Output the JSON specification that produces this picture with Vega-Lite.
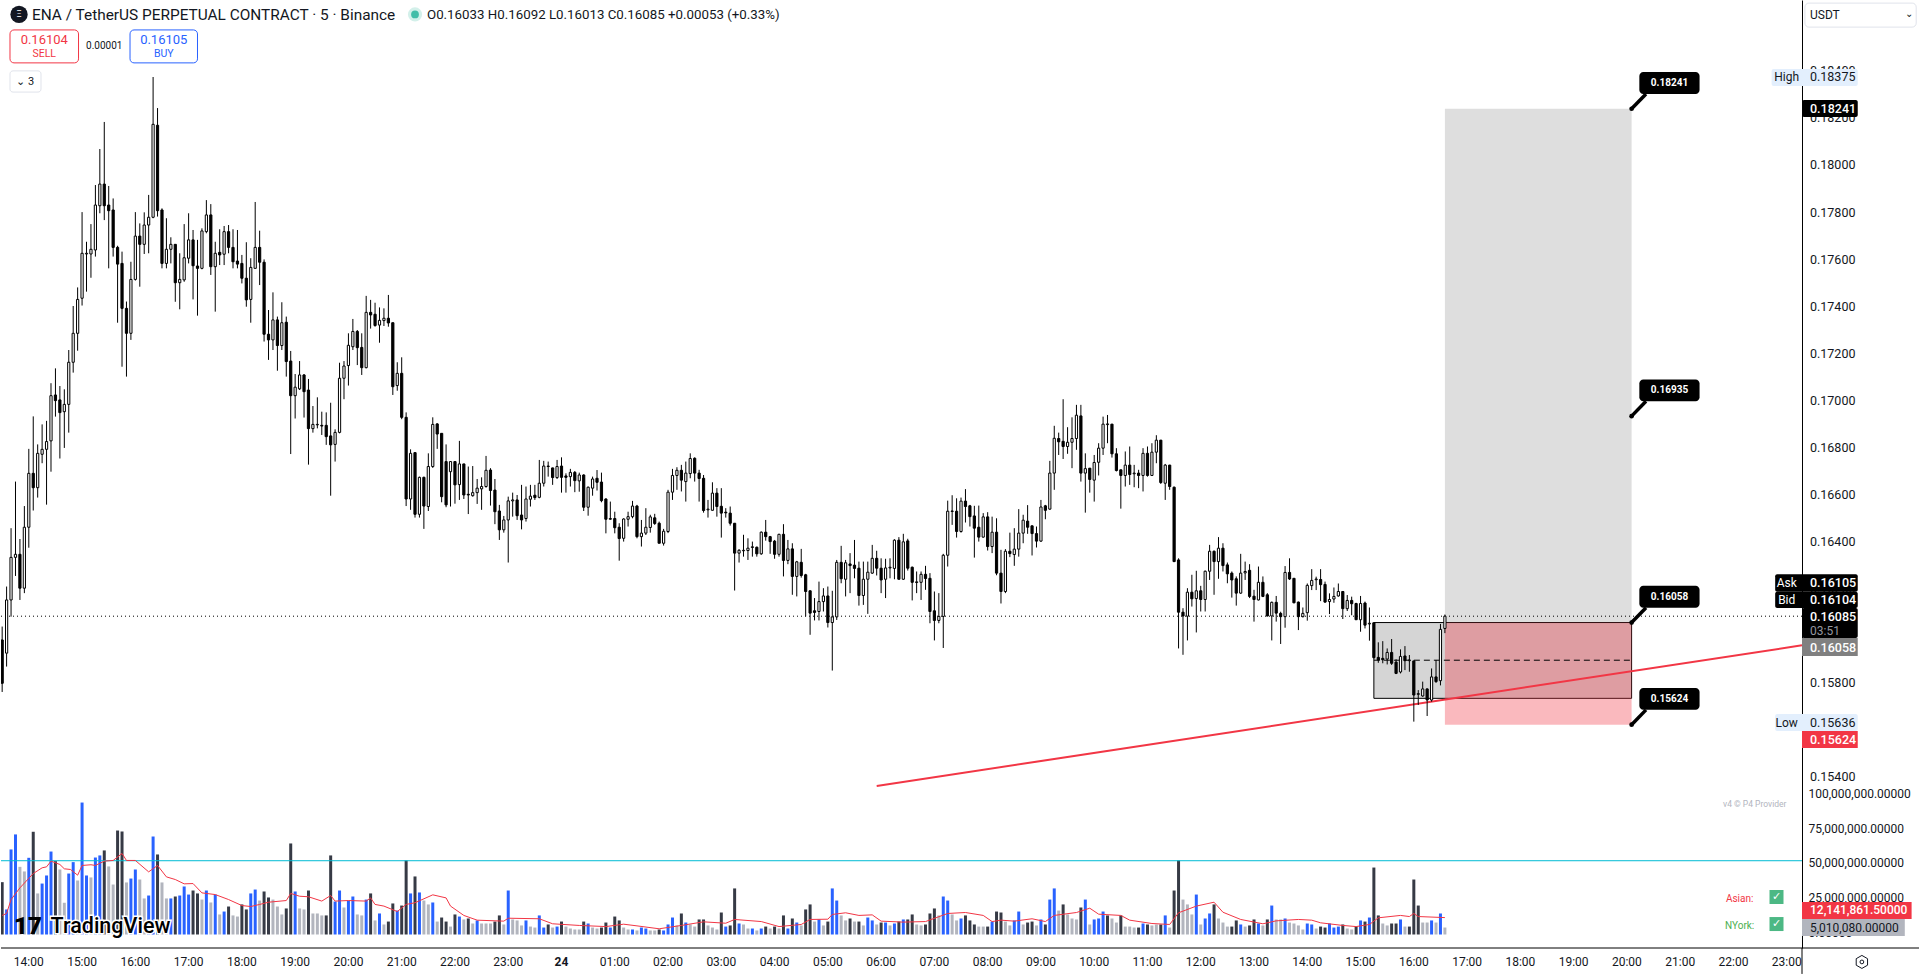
{"$schema":"https://vega.github.io/schema/vega-lite/v6.json","width":1801,"height":948,"padding":0,"autosize":{"type":"pad"},"background":"white","config":{"view":{"stroke":null},"font":"Roboto","axis":{"labelFont":"Roboto","labelColor":"#131722"}},
"datasets":{"candles":[
{"t":"2024-09-23T13:30","o":0.15984,"h":0.16041,"l":0.15763,"c":0.15800,"v":37.6,"k":"d"},
{"t":"2024-09-23T13:35","o":0.15928,"h":0.16211,"l":0.15871,"c":0.16154,"v":18.0,"k":"b"},
{"t":"2024-09-23T13:40","o":0.16154,"h":0.16459,"l":0.16083,"c":0.16335,"v":61.1,"k":"b"},
{"t":"2024-09-23T13:45","o":0.16335,"h":0.16657,"l":0.16256,"c":0.16348,"v":71.9,"k":"b"},
{"t":"2024-09-23T13:50","o":0.16348,"h":0.16413,"l":0.16154,"c":0.16204,"v":48.6,"k":"g"},
{"t":"2024-09-23T13:55","o":0.16204,"h":0.16553,"l":0.16183,"c":0.16463,"v":45.3,"k":"g"},
{"t":"2024-09-23T14:00","o":0.16463,"h":0.16796,"l":0.16376,"c":0.16692,"v":55.1,"k":"b"},
{"t":"2024-09-23T14:05","o":0.16692,"h":0.16934,"l":0.16534,"c":0.16631,"v":73.8,"k":"d"},
{"t":"2024-09-23T14:10","o":0.16631,"h":0.16815,"l":0.16589,"c":0.16777,"v":29.5,"k":"g"},
{"t":"2024-09-23T14:15","o":0.16773,"h":0.16900,"l":0.16735,"c":0.16794,"v":36.6,"k":"b"},
{"t":"2024-09-23T14:20","o":0.16794,"h":0.16915,"l":0.16559,"c":0.16827,"v":42.4,"k":"b"},
{"t":"2024-09-23T14:25","o":0.16830,"h":0.17075,"l":0.16699,"c":0.17022,"v":59.6,"k":"b"},
{"t":"2024-09-23T14:30","o":0.17025,"h":0.17138,"l":0.16933,"c":0.17001,"v":52.7,"k":"d"},
{"t":"2024-09-23T14:35","o":0.17004,"h":0.17063,"l":0.16755,"c":0.16950,"v":46.7,"k":"g"},
{"t":"2024-09-23T14:40","o":0.16954,"h":0.17049,"l":0.16800,"c":0.16985,"v":22.8,"k":"g"},
{"t":"2024-09-23T14:45","o":0.16985,"h":0.17216,"l":0.16865,"c":0.17164,"v":43.8,"k":"b"},
{"t":"2024-09-23T14:50","o":0.17164,"h":0.17403,"l":0.17120,"c":0.17287,"v":52.0,"k":"b"},
{"t":"2024-09-23T14:55","o":0.17287,"h":0.17482,"l":0.17213,"c":0.17431,"v":38.8,"k":"g"},
{"t":"2024-09-23T15:00","o":0.17436,"h":0.17802,"l":0.17405,"c":0.17627,"v":94.8,"k":"b"},
{"t":"2024-09-23T15:05","o":0.17624,"h":0.17676,"l":0.17464,"c":0.17627,"v":42.4,"k":"b"},
{"t":"2024-09-23T15:10","o":0.17624,"h":0.17751,"l":0.17523,"c":0.17644,"v":41.0,"k":"g"},
{"t":"2024-09-23T15:15","o":0.17641,"h":0.17917,"l":0.17613,"c":0.17832,"v":55.3,"k":"b"},
{"t":"2024-09-23T15:20","o":0.17829,"h":0.18070,"l":0.17797,"c":0.17921,"v":56.8,"k":"b"},
{"t":"2024-09-23T15:25","o":0.17921,"h":0.18185,"l":0.17768,"c":0.17829,"v":60.4,"k":"d"},
{"t":"2024-09-23T15:30","o":0.17832,"h":0.17913,"l":0.17563,"c":0.17808,"v":48.9,"k":"g"},
{"t":"2024-09-23T15:35","o":0.17811,"h":0.17860,"l":0.17613,"c":0.17652,"v":35.9,"k":"g"},
{"t":"2024-09-23T15:40","o":0.17652,"h":0.17659,"l":0.17332,"c":0.17581,"v":74.7,"k":"d"},
{"t":"2024-09-23T15:45","o":0.17584,"h":0.17634,"l":0.17145,"c":0.17393,"v":74.0,"k":"d"},
{"t":"2024-09-23T15:50","o":0.17393,"h":0.17422,"l":0.17103,"c":0.17287,"v":37.4,"k":"g"},
{"t":"2024-09-23T15:55","o":0.17287,"h":0.17591,"l":0.17259,"c":0.17516,"v":40.2,"k":"b"},
{"t":"2024-09-23T16:00","o":0.17516,"h":0.17802,"l":0.17511,"c":0.17700,"v":46.7,"k":"b"},
{"t":"2024-09-23T16:05","o":0.17700,"h":0.17754,"l":0.17485,"c":0.17665,"v":39.5,"k":"g"},
{"t":"2024-09-23T16:10","o":0.17665,"h":0.17801,"l":0.17624,"c":0.17747,"v":25.9,"k":"g"},
{"t":"2024-09-23T16:15","o":0.17747,"h":0.17875,"l":0.17627,"c":0.17780,"v":28.0,"k":"b"},
{"t":"2024-09-23T16:20","o":0.17780,"h":0.18376,"l":0.17776,"c":0.18175,"v":70.4,"k":"b"},
{"t":"2024-09-23T16:25","o":0.18171,"h":0.18244,"l":0.17783,"c":0.17808,"v":57.5,"k":"d"},
{"t":"2024-09-23T16:30","o":0.17811,"h":0.17818,"l":0.17563,"c":0.17584,"v":37.4,"k":"g"},
{"t":"2024-09-23T16:35","o":0.17584,"h":0.17776,"l":0.17563,"c":0.17644,"v":25.9,"k":"g"},
{"t":"2024-09-23T16:40","o":0.17644,"h":0.17695,"l":0.17584,"c":0.17665,"v":25.9,"k":"b"},
{"t":"2024-09-23T16:45","o":0.17665,"h":0.17666,"l":0.17421,"c":0.17502,"v":27.3,"k":"d"},
{"t":"2024-09-23T16:50","o":0.17502,"h":0.17627,"l":0.17389,"c":0.17516,"v":28.0,"k":"b"},
{"t":"2024-09-23T16:55","o":0.17514,"h":0.17751,"l":0.17506,"c":0.17608,"v":34.5,"k":"b"},
{"t":"2024-09-23T17:00","o":0.17606,"h":0.17797,"l":0.17584,"c":0.17684,"v":28.7,"k":"b"},
{"t":"2024-09-23T17:05","o":0.17684,"h":0.17726,"l":0.17431,"c":0.17574,"v":31.6,"k":"d"},
{"t":"2024-09-23T17:10","o":0.17573,"h":0.17684,"l":0.17362,"c":0.17563,"v":29.5,"k":"d"},
{"t":"2024-09-23T17:15","o":0.17563,"h":0.17733,"l":0.17559,"c":0.17722,"v":25.1,"k":"g"},
{"t":"2024-09-23T17:20","o":0.17719,"h":0.17853,"l":0.17712,"c":0.17790,"v":31.6,"k":"b"},
{"t":"2024-09-23T17:25","o":0.17790,"h":0.17836,"l":0.17535,"c":0.17570,"v":23.0,"k":"g"},
{"t":"2024-09-23T17:30","o":0.17570,"h":0.17676,"l":0.17379,"c":0.17627,"v":28.7,"k":"b"},
{"t":"2024-09-23T17:35","o":0.17631,"h":0.17729,"l":0.17577,"c":0.17620,"v":14.4,"k":"g"},
{"t":"2024-09-23T17:40","o":0.17623,"h":0.17743,"l":0.17577,"c":0.17719,"v":16.5,"k":"b"},
{"t":"2024-09-23T17:45","o":0.17719,"h":0.17747,"l":0.17627,"c":0.17652,"v":20.1,"k":"d"},
{"t":"2024-09-23T17:50","o":0.17652,"h":0.17729,"l":0.17563,"c":0.17591,"v":13.7,"k":"g"},
{"t":"2024-09-23T17:55","o":0.17594,"h":0.17726,"l":0.17563,"c":0.17581,"v":12.9,"k":"g"},
{"t":"2024-09-23T18:00","o":0.17584,"h":0.17620,"l":0.17499,"c":0.17521,"v":21.6,"k":"d"},
{"t":"2024-09-23T18:05","o":0.17521,"h":0.17674,"l":0.17400,"c":0.17429,"v":18.0,"k":"d"},
{"t":"2024-09-23T18:10","o":0.17431,"h":0.17606,"l":0.17332,"c":0.17567,"v":29.5,"k":"b"},
{"t":"2024-09-23T18:15","o":0.17563,"h":0.17845,"l":0.17562,"c":0.17652,"v":32.3,"k":"b"},
{"t":"2024-09-23T18:20","o":0.17652,"h":0.17723,"l":0.17492,"c":0.17589,"v":24.4,"k":"g"},
{"t":"2024-09-23T18:25","o":0.17589,"h":0.17601,"l":0.17252,"c":0.17283,"v":30.9,"k":"d"},
{"t":"2024-09-23T18:30","o":0.17283,"h":0.17386,"l":0.17174,"c":0.17259,"v":26.6,"k":"d"},
{"t":"2024-09-23T18:35","o":0.17259,"h":0.17461,"l":0.17216,"c":0.17344,"v":25.1,"k":"g"},
{"t":"2024-09-23T18:40","o":0.17344,"h":0.17358,"l":0.17128,"c":0.17235,"v":20.1,"k":"g"},
{"t":"2024-09-23T18:45","o":0.17235,"h":0.17419,"l":0.17216,"c":0.17332,"v":14.4,"k":"g"},
{"t":"2024-09-23T18:50","o":0.17334,"h":0.17358,"l":0.17103,"c":0.17167,"v":18.7,"k":"d"},
{"t":"2024-09-23T18:55","o":0.17169,"h":0.17212,"l":0.16774,"c":0.17022,"v":65.4,"k":"d"},
{"t":"2024-09-23T19:00","o":0.17022,"h":0.17114,"l":0.16925,"c":0.17058,"v":30.9,"k":"b"},
{"t":"2024-09-23T19:05","o":0.17051,"h":0.17169,"l":0.17046,"c":0.17110,"v":18.7,"k":"g"},
{"t":"2024-09-23T19:10","o":0.17110,"h":0.17114,"l":0.16929,"c":0.17039,"v":18.0,"k":"g"},
{"t":"2024-09-23T19:15","o":0.17046,"h":0.17093,"l":0.16729,"c":0.16882,"v":31.6,"k":"d"},
{"t":"2024-09-23T19:20","o":0.16882,"h":0.16978,"l":0.16865,"c":0.16900,"v":15.1,"k":"g"},
{"t":"2024-09-23T19:25","o":0.16898,"h":0.17015,"l":0.16883,"c":0.16900,"v":15.1,"k":"g"},
{"t":"2024-09-23T19:30","o":0.16896,"h":0.16954,"l":0.16855,"c":0.16893,"v":13.7,"k":"g"},
{"t":"2024-09-23T19:35","o":0.16896,"h":0.16951,"l":0.16813,"c":0.16848,"v":13.7,"k":"d"},
{"t":"2024-09-23T19:40","o":0.16851,"h":0.16992,"l":0.16597,"c":0.16813,"v":56.8,"k":"d"},
{"t":"2024-09-23T19:45","o":0.16815,"h":0.16879,"l":0.16742,"c":0.16866,"v":23.7,"k":"b"},
{"t":"2024-09-23T19:50","o":0.16866,"h":0.17162,"l":0.16862,"c":0.17096,"v":31.6,"k":"b"},
{"t":"2024-09-23T19:55","o":0.17096,"h":0.17169,"l":0.17007,"c":0.17148,"v":19.4,"k":"g"},
{"t":"2024-09-23T20:00","o":0.17150,"h":0.17287,"l":0.17065,"c":0.17236,"v":24.4,"k":"b"},
{"t":"2024-09-23T20:05","o":0.17230,"h":0.17348,"l":0.17216,"c":0.17295,"v":27.3,"k":"b"},
{"t":"2024-09-23T20:10","o":0.17295,"h":0.17301,"l":0.17152,"c":0.17226,"v":14.4,"k":"g"},
{"t":"2024-09-23T20:15","o":0.17227,"h":0.17287,"l":0.17110,"c":0.17141,"v":13.7,"k":"g"},
{"t":"2024-09-23T20:20","o":0.17141,"h":0.17446,"l":0.17138,"c":0.17376,"v":25.1,"k":"b"},
{"t":"2024-09-23T20:25","o":0.17376,"h":0.17429,"l":0.17307,"c":0.17365,"v":29.5,"k":"d"},
{"t":"2024-09-23T20:30","o":0.17368,"h":0.17417,"l":0.17315,"c":0.17320,"v":10.1,"k":"g"},
{"t":"2024-09-23T20:35","o":0.17322,"h":0.17397,"l":0.17247,"c":0.17342,"v":15.1,"k":"b"},
{"t":"2024-09-23T20:40","o":0.17341,"h":0.17393,"l":0.17318,"c":0.17351,"v":7.2,"k":"g"},
{"t":"2024-09-23T20:45","o":0.17351,"h":0.17450,"l":0.17315,"c":0.17331,"v":9.3,"k":"d"},
{"t":"2024-09-23T20:50","o":0.17332,"h":0.17332,"l":0.17025,"c":0.17060,"v":22.3,"k":"d"},
{"t":"2024-09-23T20:55","o":0.17065,"h":0.17164,"l":0.17043,"c":0.17117,"v":17.2,"k":"b"},
{"t":"2024-09-23T21:00","o":0.17117,"h":0.17185,"l":0.16922,"c":0.16930,"v":20.8,"k":"d"},
{"t":"2024-09-23T21:05","o":0.16930,"h":0.16951,"l":0.16553,"c":0.16583,"v":53.2,"k":"d"},
{"t":"2024-09-23T21:10","o":0.16583,"h":0.16794,"l":0.16537,"c":0.16777,"v":29.5,"k":"b"},
{"t":"2024-09-23T21:15","o":0.16780,"h":0.16781,"l":0.16504,"c":0.16518,"v":41.7,"k":"d"},
{"t":"2024-09-23T21:20","o":0.16518,"h":0.16678,"l":0.16504,"c":0.16675,"v":30.2,"k":"b"},
{"t":"2024-09-23T21:25","o":0.16675,"h":0.16678,"l":0.16456,"c":0.16553,"v":24.4,"k":"g"},
{"t":"2024-09-23T21:30","o":0.16551,"h":0.16777,"l":0.16532,"c":0.16721,"v":21.6,"k":"g"},
{"t":"2024-09-23T21:35","o":0.16721,"h":0.16930,"l":0.16715,"c":0.16900,"v":23.0,"k":"b"},
{"t":"2024-09-23T21:40","o":0.16902,"h":0.16905,"l":0.16796,"c":0.16859,"v":9.3,"k":"g"},
{"t":"2024-09-23T21:45","o":0.16862,"h":0.16862,"l":0.16569,"c":0.16593,"v":12.2,"k":"d"},
{"t":"2024-09-23T21:50","o":0.16742,"h":0.16815,"l":0.16548,"c":0.16558,"v":9.3,"k":"d"},
{"t":"2024-09-23T21:55","o":0.16699,"h":0.16742,"l":0.16551,"c":0.16742,"v":5.7,"k":"g"},
{"t":"2024-09-23T22:00","o":0.16742,"h":0.16742,"l":0.16563,"c":0.16643,"v":14.4,"k":"d"},
{"t":"2024-09-23T22:05","o":0.16644,"h":0.16830,"l":0.16579,"c":0.16732,"v":12.9,"k":"b"},
{"t":"2024-09-23T22:10","o":0.16732,"h":0.16732,"l":0.16583,"c":0.16600,"v":10.8,"k":"g"},
{"t":"2024-09-23T22:15","o":0.16603,"h":0.16721,"l":0.16519,"c":0.16600,"v":11.5,"k":"d"},
{"t":"2024-09-23T22:20","o":0.16597,"h":0.16723,"l":0.16593,"c":0.16610,"v":7.9,"k":"g"},
{"t":"2024-09-23T22:25","o":0.16610,"h":0.16668,"l":0.16562,"c":0.16629,"v":10.1,"k":"b"},
{"t":"2024-09-23T22:30","o":0.16626,"h":0.16675,"l":0.16537,"c":0.16636,"v":7.9,"k":"g"},
{"t":"2024-09-23T22:35","o":0.16636,"h":0.16766,"l":0.16631,"c":0.16705,"v":7.9,"k":"g"},
{"t":"2024-09-23T22:40","o":0.16706,"h":0.16714,"l":0.16555,"c":0.16619,"v":7.9,"k":"g"},
{"t":"2024-09-23T22:45","o":0.16621,"h":0.16668,"l":0.16476,"c":0.16529,"v":9.3,"k":"d"},
{"t":"2024-09-23T22:50","o":0.16532,"h":0.16558,"l":0.16409,"c":0.16452,"v":13.7,"k":"d"},
{"t":"2024-09-23T22:55","o":0.16452,"h":0.16511,"l":0.16440,"c":0.16494,"v":7.2,"k":"g"},
{"t":"2024-09-23T23:00","o":0.16494,"h":0.16593,"l":0.16313,"c":0.16575,"v":31.6,"k":"b"},
{"t":"2024-09-23T23:05","o":0.16575,"h":0.16610,"l":0.16508,"c":0.16579,"v":10.8,"k":"g"},
{"t":"2024-09-23T23:10","o":0.16579,"h":0.16600,"l":0.16494,"c":0.16512,"v":10.1,"k":"g"},
{"t":"2024-09-23T23:15","o":0.16515,"h":0.16643,"l":0.16454,"c":0.16494,"v":6.5,"k":"g"},
{"t":"2024-09-23T23:20","o":0.16500,"h":0.16636,"l":0.16487,"c":0.16583,"v":10.1,"k":"b"},
{"t":"2024-09-23T23:25","o":0.16582,"h":0.16643,"l":0.16551,"c":0.16595,"v":5.7,"k":"g"},
{"t":"2024-09-23T23:30","o":0.16599,"h":0.16643,"l":0.16579,"c":0.16589,"v":5.0,"k":"g"},
{"t":"2024-09-23T23:35","o":0.16590,"h":0.16749,"l":0.16586,"c":0.16650,"v":13.7,"k":"b"},
{"t":"2024-09-23T23:40","o":0.16650,"h":0.16745,"l":0.16636,"c":0.16723,"v":5.0,"k":"b"},
{"t":"2024-09-23T23:45","o":0.16723,"h":0.16742,"l":0.16678,"c":0.16721,"v":7.2,"k":"d"},
{"t":"2024-09-23T23:50","o":0.16715,"h":0.16716,"l":0.16643,"c":0.16674,"v":5.0,"k":"g"},
{"t":"2024-09-23T23:55","o":0.16674,"h":0.16749,"l":0.16668,"c":0.16721,"v":5.7,"k":"b"},
{"t":"2024-09-24T00:00","o":0.16723,"h":0.16760,"l":0.16610,"c":0.16675,"v":9.3,"k":"d"},
{"t":"2024-09-24T00:05","o":0.16681,"h":0.16692,"l":0.16610,"c":0.16675,"v":5.7,"k":"g"},
{"t":"2024-09-24T00:10","o":0.16678,"h":0.16711,"l":0.16636,"c":0.16696,"v":4.3,"k":"g"},
{"t":"2024-09-24T00:15","o":0.16696,"h":0.16702,"l":0.16612,"c":0.16661,"v":3.6,"k":"g"},
{"t":"2024-09-24T00:20","o":0.16660,"h":0.16695,"l":0.16614,"c":0.16685,"v":3.6,"k":"g"},
{"t":"2024-09-24T00:25","o":0.16685,"h":0.16688,"l":0.16532,"c":0.16548,"v":9.3,"k":"d"},
{"t":"2024-09-24T00:30","o":0.16548,"h":0.16636,"l":0.16512,"c":0.16633,"v":7.9,"k":"b"},
{"t":"2024-09-24T00:35","o":0.16629,"h":0.16678,"l":0.16597,"c":0.16668,"v":5.0,"k":"g"},
{"t":"2024-09-24T00:40","o":0.16671,"h":0.16706,"l":0.16619,"c":0.16654,"v":4.3,"k":"g"},
{"t":"2024-09-24T00:45","o":0.16655,"h":0.16695,"l":0.16569,"c":0.16576,"v":5.0,"k":"d"},
{"t":"2024-09-24T00:50","o":0.16583,"h":0.16586,"l":0.16437,"c":0.16497,"v":8.6,"k":"d"},
{"t":"2024-09-24T00:55","o":0.16497,"h":0.16572,"l":0.16494,"c":0.16500,"v":5.0,"k":"b"},
{"t":"2024-09-24T01:00","o":0.16500,"h":0.16529,"l":0.16437,"c":0.16461,"v":12.9,"k":"d"},
{"t":"2024-09-24T01:05","o":0.16463,"h":0.16480,"l":0.16321,"c":0.16415,"v":10.1,"k":"d"},
{"t":"2024-09-24T01:10","o":0.16416,"h":0.16501,"l":0.16402,"c":0.16498,"v":5.0,"k":"g"},
{"t":"2024-09-24T01:15","o":0.16497,"h":0.16529,"l":0.16466,"c":0.16508,"v":3.6,"k":"g"},
{"t":"2024-09-24T01:20","o":0.16508,"h":0.16575,"l":0.16501,"c":0.16553,"v":3.6,"k":"b"},
{"t":"2024-09-24T01:25","o":0.16553,"h":0.16558,"l":0.16416,"c":0.16423,"v":2.9,"k":"g"},
{"t":"2024-09-24T01:30","o":0.16423,"h":0.16494,"l":0.16381,"c":0.16438,"v":5.0,"k":"b"},
{"t":"2024-09-24T01:35","o":0.16438,"h":0.16544,"l":0.16430,"c":0.16463,"v":4.3,"k":"b"},
{"t":"2024-09-24T01:40","o":0.16462,"h":0.16516,"l":0.16440,"c":0.16507,"v":2.9,"k":"g"},
{"t":"2024-09-24T01:45","o":0.16503,"h":0.16520,"l":0.16473,"c":0.16479,"v":2.9,"k":"g"},
{"t":"2024-09-24T01:50","o":0.16480,"h":0.16487,"l":0.16395,"c":0.16395,"v":3.6,"k":"d"},
{"t":"2024-09-24T01:55","o":0.16395,"h":0.16456,"l":0.16385,"c":0.16446,"v":2.9,"k":"b"},
{"t":"2024-09-24T02:00","o":0.16445,"h":0.16622,"l":0.16438,"c":0.16612,"v":7.2,"k":"b"},
{"t":"2024-09-24T02:05","o":0.16612,"h":0.16711,"l":0.16579,"c":0.16683,"v":12.2,"k":"b"},
{"t":"2024-09-24T02:10","o":0.16683,"h":0.16718,"l":0.16622,"c":0.16705,"v":6.5,"k":"g"},
{"t":"2024-09-24T02:15","o":0.16705,"h":0.16728,"l":0.16615,"c":0.16663,"v":15.1,"k":"d"},
{"t":"2024-09-24T02:20","o":0.16657,"h":0.16742,"l":0.16572,"c":0.16693,"v":8.6,"k":"b"},
{"t":"2024-09-24T02:25","o":0.16691,"h":0.16777,"l":0.16671,"c":0.16755,"v":7.2,"k":"g"},
{"t":"2024-09-24T02:30","o":0.16756,"h":0.16760,"l":0.16657,"c":0.16693,"v":5.7,"k":"g"},
{"t":"2024-09-24T02:35","o":0.16693,"h":0.16707,"l":0.16572,"c":0.16670,"v":10.8,"k":"d"},
{"t":"2024-09-24T02:40","o":0.16671,"h":0.16685,"l":0.16525,"c":0.16534,"v":10.8,"k":"d"},
{"t":"2024-09-24T02:45","o":0.16537,"h":0.16579,"l":0.16504,"c":0.16540,"v":6.5,"k":"g"},
{"t":"2024-09-24T02:50","o":0.16535,"h":0.16654,"l":0.16534,"c":0.16608,"v":5.0,"k":"g"},
{"t":"2024-09-24T02:55","o":0.16608,"h":0.16629,"l":0.16508,"c":0.16551,"v":3.6,"k":"g"},
{"t":"2024-09-24T03:00","o":0.16552,"h":0.16629,"l":0.16419,"c":0.16523,"v":15.8,"k":"d"},
{"t":"2024-09-24T03:05","o":0.16527,"h":0.16544,"l":0.16504,"c":0.16524,"v":5.7,"k":"b"},
{"t":"2024-09-24T03:10","o":0.16523,"h":0.16551,"l":0.16470,"c":0.16480,"v":6.5,"k":"d"},
{"t":"2024-09-24T03:15","o":0.16480,"h":0.16480,"l":0.16194,"c":0.16353,"v":33.1,"k":"d"},
{"t":"2024-09-24T03:20","o":0.16353,"h":0.16370,"l":0.16313,"c":0.16365,"v":7.9,"k":"b"},
{"t":"2024-09-24T03:25","o":0.16363,"h":0.16431,"l":0.16338,"c":0.16365,"v":7.2,"k":"g"},
{"t":"2024-09-24T03:30","o":0.16364,"h":0.16416,"l":0.16324,"c":0.16374,"v":4.3,"k":"g"},
{"t":"2024-09-24T03:35","o":0.16377,"h":0.16402,"l":0.16338,"c":0.16380,"v":4.3,"k":"b"},
{"t":"2024-09-24T03:40","o":0.16378,"h":0.16381,"l":0.16338,"c":0.16350,"v":2.9,"k":"g"},
{"t":"2024-09-24T03:45","o":0.16350,"h":0.16445,"l":0.16346,"c":0.16442,"v":4.3,"k":"b"},
{"t":"2024-09-24T03:50","o":0.16442,"h":0.16494,"l":0.16406,"c":0.16423,"v":5.7,"k":"d"},
{"t":"2024-09-24T03:55","o":0.16423,"h":0.16426,"l":0.16350,"c":0.16402,"v":4.3,"k":"g"},
{"t":"2024-09-24T04:00","o":0.16404,"h":0.16409,"l":0.16329,"c":0.16348,"v":5.7,"k":"d"},
{"t":"2024-09-24T04:05","o":0.16348,"h":0.16435,"l":0.16338,"c":0.16433,"v":4.3,"k":"g"},
{"t":"2024-09-24T04:10","o":0.16433,"h":0.16476,"l":0.16254,"c":0.16322,"v":13.7,"k":"d"},
{"t":"2024-09-24T04:15","o":0.16322,"h":0.16409,"l":0.16306,"c":0.16371,"v":4.3,"k":"b"},
{"t":"2024-09-24T04:20","o":0.16371,"h":0.16395,"l":0.16176,"c":0.16254,"v":11.5,"k":"d"},
{"t":"2024-09-24T04:25","o":0.16254,"h":0.16320,"l":0.16169,"c":0.16316,"v":8.6,"k":"b"},
{"t":"2024-09-24T04:30","o":0.16314,"h":0.16371,"l":0.16249,"c":0.16258,"v":6.5,"k":"g"},
{"t":"2024-09-24T04:35","o":0.16261,"h":0.16265,"l":0.16084,"c":0.16190,"v":18.0,"k":"d"},
{"t":"2024-09-24T04:40","o":0.16193,"h":0.16194,"l":0.16006,"c":0.16098,"v":21.6,"k":"d"},
{"t":"2024-09-24T04:45","o":0.16108,"h":0.16162,"l":0.16067,"c":0.16101,"v":9.3,"k":"g"},
{"t":"2024-09-24T04:50","o":0.16105,"h":0.16232,"l":0.16067,"c":0.16147,"v":10.8,"k":"b"},
{"t":"2024-09-24T04:55","o":0.16147,"h":0.16204,"l":0.16105,"c":0.16171,"v":6.5,"k":"g"},
{"t":"2024-09-24T05:00","o":0.16171,"h":0.16211,"l":0.16037,"c":0.16058,"v":9.3,"k":"d"},
{"t":"2024-09-24T05:05","o":0.16058,"h":0.16193,"l":0.15854,"c":0.16082,"v":33.1,"k":"b"},
{"t":"2024-09-24T05:10","o":0.16082,"h":0.16324,"l":0.16069,"c":0.16314,"v":24.4,"k":"b"},
{"t":"2024-09-24T05:15","o":0.16314,"h":0.16384,"l":0.16225,"c":0.16244,"v":13.7,"k":"g"},
{"t":"2024-09-24T05:20","o":0.16242,"h":0.16324,"l":0.16169,"c":0.16312,"v":10.1,"k":"g"},
{"t":"2024-09-24T05:25","o":0.16307,"h":0.16353,"l":0.16183,"c":0.16300,"v":11.5,"k":"d"},
{"t":"2024-09-24T05:30","o":0.16302,"h":0.16409,"l":0.16246,"c":0.16288,"v":9.3,"k":"g"},
{"t":"2024-09-24T05:35","o":0.16289,"h":0.16317,"l":0.16130,"c":0.16173,"v":9.3,"k":"d"},
{"t":"2024-09-24T05:40","o":0.16173,"h":0.16317,"l":0.16133,"c":0.16242,"v":6.5,"k":"g"},
{"t":"2024-09-24T05:45","o":0.16242,"h":0.16317,"l":0.16095,"c":0.16272,"v":12.2,"k":"b"},
{"t":"2024-09-24T05:50","o":0.16268,"h":0.16388,"l":0.16265,"c":0.16331,"v":10.1,"k":"b"},
{"t":"2024-09-24T05:55","o":0.16331,"h":0.16363,"l":0.16258,"c":0.16289,"v":7.2,"k":"g"},
{"t":"2024-09-24T06:00","o":0.16289,"h":0.16331,"l":0.16183,"c":0.16239,"v":8.6,"k":"d"},
{"t":"2024-09-24T06:05","o":0.16242,"h":0.16329,"l":0.16162,"c":0.16290,"v":8.6,"k":"b"},
{"t":"2024-09-24T06:10","o":0.16290,"h":0.16331,"l":0.16246,"c":0.16293,"v":6.5,"k":"g"},
{"t":"2024-09-24T06:15","o":0.16288,"h":0.16412,"l":0.16242,"c":0.16408,"v":7.9,"k":"b"},
{"t":"2024-09-24T06:20","o":0.16408,"h":0.16421,"l":0.16240,"c":0.16242,"v":9.3,"k":"d"},
{"t":"2024-09-24T06:25","o":0.16242,"h":0.16435,"l":0.16239,"c":0.16401,"v":10.8,"k":"b"},
{"t":"2024-09-24T06:30","o":0.16405,"h":0.16414,"l":0.16279,"c":0.16289,"v":10.8,"k":"d"},
{"t":"2024-09-24T06:35","o":0.16293,"h":0.16296,"l":0.16152,"c":0.16229,"v":14.4,"k":"d"},
{"t":"2024-09-24T06:40","o":0.16228,"h":0.16275,"l":0.16183,"c":0.16231,"v":7.2,"k":"g"},
{"t":"2024-09-24T06:45","o":0.16229,"h":0.16275,"l":0.16154,"c":0.16263,"v":6.5,"k":"g"},
{"t":"2024-09-24T06:50","o":0.16263,"h":0.16299,"l":0.16197,"c":0.16245,"v":7.2,"k":"d"},
{"t":"2024-09-24T06:55","o":0.16246,"h":0.16268,"l":0.16055,"c":0.16105,"v":15.1,"k":"d"},
{"t":"2024-09-24T07:00","o":0.16108,"h":0.16190,"l":0.15982,"c":0.16067,"v":18.7,"k":"d"},
{"t":"2024-09-24T07:05","o":0.16067,"h":0.16183,"l":0.16055,"c":0.16084,"v":13.7,"k":"g"},
{"t":"2024-09-24T07:10","o":0.16084,"h":0.16350,"l":0.15950,"c":0.16344,"v":27.3,"k":"b"},
{"t":"2024-09-24T07:15","o":0.16344,"h":0.16576,"l":0.16296,"c":0.16531,"v":24.4,"k":"b"},
{"t":"2024-09-24T07:20","o":0.16530,"h":0.16599,"l":0.16473,"c":0.16532,"v":14.4,"k":"g"},
{"t":"2024-09-24T07:25","o":0.16531,"h":0.16586,"l":0.16419,"c":0.16445,"v":10.1,"k":"g"},
{"t":"2024-09-24T07:30","o":0.16445,"h":0.16589,"l":0.16440,"c":0.16574,"v":11.5,"k":"b"},
{"t":"2024-09-24T07:35","o":0.16574,"h":0.16625,"l":0.16483,"c":0.16551,"v":13.7,"k":"d"},
{"t":"2024-09-24T07:40","o":0.16554,"h":0.16558,"l":0.16466,"c":0.16508,"v":10.1,"k":"d"},
{"t":"2024-09-24T07:45","o":0.16511,"h":0.16554,"l":0.16334,"c":0.16459,"v":7.2,"k":"d"},
{"t":"2024-09-24T07:50","o":0.16463,"h":0.16555,"l":0.16402,"c":0.16421,"v":5.7,"k":"g"},
{"t":"2024-09-24T07:55","o":0.16421,"h":0.16523,"l":0.16419,"c":0.16507,"v":5.7,"k":"g"},
{"t":"2024-09-24T08:00","o":0.16507,"h":0.16527,"l":0.16364,"c":0.16381,"v":5.7,"k":"d"},
{"t":"2024-09-24T08:05","o":0.16381,"h":0.16508,"l":0.16353,"c":0.16442,"v":9.3,"k":"b"},
{"t":"2024-09-24T08:10","o":0.16442,"h":0.16501,"l":0.16259,"c":0.16268,"v":16.5,"k":"d"},
{"t":"2024-09-24T08:15","o":0.16268,"h":0.16367,"l":0.16139,"c":0.16190,"v":15.8,"k":"d"},
{"t":"2024-09-24T08:20","o":0.16190,"h":0.16370,"l":0.16183,"c":0.16361,"v":9.3,"k":"g"},
{"t":"2024-09-24T08:25","o":0.16361,"h":0.16440,"l":0.16336,"c":0.16351,"v":6.5,"k":"g"},
{"t":"2024-09-24T08:30","o":0.16347,"h":0.16459,"l":0.16299,"c":0.16370,"v":10.1,"k":"b"},
{"t":"2024-09-24T08:35","o":0.16370,"h":0.16540,"l":0.16338,"c":0.16438,"v":16.5,"k":"b"},
{"t":"2024-09-24T08:40","o":0.16438,"h":0.16516,"l":0.16395,"c":0.16493,"v":7.2,"k":"g"},
{"t":"2024-09-24T08:45","o":0.16489,"h":0.16557,"l":0.16435,"c":0.16463,"v":8.6,"k":"d"},
{"t":"2024-09-24T08:50","o":0.16469,"h":0.16470,"l":0.16343,"c":0.16436,"v":9.3,"k":"d"},
{"t":"2024-09-24T08:55","o":0.16436,"h":0.16466,"l":0.16377,"c":0.16404,"v":6.5,"k":"g"},
{"t":"2024-09-24T09:00","o":0.16404,"h":0.16579,"l":0.16401,"c":0.16549,"v":10.8,"k":"b"},
{"t":"2024-09-24T09:05","o":0.16554,"h":0.16558,"l":0.16497,"c":0.16535,"v":7.2,"k":"d"},
{"t":"2024-09-24T09:10","o":0.16540,"h":0.16745,"l":0.16537,"c":0.16693,"v":25.1,"k":"b"},
{"t":"2024-09-24T09:15","o":0.16693,"h":0.16894,"l":0.16622,"c":0.16841,"v":33.1,"k":"b"},
{"t":"2024-09-24T09:20","o":0.16840,"h":0.16865,"l":0.16770,"c":0.16826,"v":17.2,"k":"g"},
{"t":"2024-09-24T09:25","o":0.16828,"h":0.17007,"l":0.16753,"c":0.16806,"v":21.6,"k":"d"},
{"t":"2024-09-24T09:30","o":0.16806,"h":0.16888,"l":0.16775,"c":0.16824,"v":14.4,"k":"g"},
{"t":"2024-09-24T09:35","o":0.16824,"h":0.16930,"l":0.16714,"c":0.16840,"v":11.5,"k":"g"},
{"t":"2024-09-24T09:40","o":0.16840,"h":0.16983,"l":0.16792,"c":0.16939,"v":10.8,"k":"g"},
{"t":"2024-09-24T09:45","o":0.16936,"h":0.16983,"l":0.16657,"c":0.16693,"v":19.4,"k":"d"},
{"t":"2024-09-24T09:50","o":0.16693,"h":0.16777,"l":0.16525,"c":0.16712,"v":25.1,"k":"b"},
{"t":"2024-09-24T09:55","o":0.16714,"h":0.16714,"l":0.16610,"c":0.16666,"v":7.2,"k":"g"},
{"t":"2024-09-24T10:00","o":0.16663,"h":0.16770,"l":0.16572,"c":0.16738,"v":10.8,"k":"b"},
{"t":"2024-09-24T10:05","o":0.16739,"h":0.16820,"l":0.16683,"c":0.16799,"v":11.5,"k":"b"},
{"t":"2024-09-24T10:10","o":0.16799,"h":0.16933,"l":0.16770,"c":0.16901,"v":16.5,"k":"b"},
{"t":"2024-09-24T10:15","o":0.16899,"h":0.16940,"l":0.16820,"c":0.16902,"v":13.7,"k":"d"},
{"t":"2024-09-24T10:20","o":0.16901,"h":0.16902,"l":0.16759,"c":0.16775,"v":11.5,"k":"g"},
{"t":"2024-09-24T10:25","o":0.16775,"h":0.16799,"l":0.16700,"c":0.16704,"v":8.6,"k":"g"},
{"t":"2024-09-24T10:30","o":0.16707,"h":0.16707,"l":0.16542,"c":0.16683,"v":13.7,"k":"d"},
{"t":"2024-09-24T10:35","o":0.16683,"h":0.16785,"l":0.16636,"c":0.16727,"v":5.7,"k":"g"},
{"t":"2024-09-24T10:40","o":0.16727,"h":0.16806,"l":0.16643,"c":0.16687,"v":5.7,"k":"g"},
{"t":"2024-09-24T10:45","o":0.16690,"h":0.16728,"l":0.16633,"c":0.16693,"v":5.0,"k":"g"},
{"t":"2024-09-24T10:50","o":0.16693,"h":0.16707,"l":0.16629,"c":0.16683,"v":5.0,"k":"d"},
{"t":"2024-09-24T10:55","o":0.16683,"h":0.16799,"l":0.16615,"c":0.16777,"v":7.9,"k":"b"},
{"t":"2024-09-24T11:00","o":0.16777,"h":0.16806,"l":0.16678,"c":0.16683,"v":7.2,"k":"d"},
{"t":"2024-09-24T11:05","o":0.16683,"h":0.16820,"l":0.16681,"c":0.16782,"v":6.5,"k":"g"},
{"t":"2024-09-24T11:10","o":0.16782,"h":0.16854,"l":0.16735,"c":0.16833,"v":7.2,"k":"g"},
{"t":"2024-09-24T11:15","o":0.16833,"h":0.16834,"l":0.16647,"c":0.16653,"v":7.2,"k":"d"},
{"t":"2024-09-24T11:20","o":0.16650,"h":0.16732,"l":0.16579,"c":0.16727,"v":13.7,"k":"b"},
{"t":"2024-09-24T11:25","o":0.16727,"h":0.16728,"l":0.16622,"c":0.16636,"v":5.0,"k":"g"},
{"t":"2024-09-24T11:30","o":0.16633,"h":0.16636,"l":0.16315,"c":0.16317,"v":31.6,"k":"d"},
{"t":"2024-09-24T11:35","o":0.16324,"h":0.16331,"l":0.15948,"c":0.16102,"v":53.2,"k":"d"},
{"t":"2024-09-24T11:40","o":0.16102,"h":0.16119,"l":0.15921,"c":0.16086,"v":25.1,"k":"g"},
{"t":"2024-09-24T11:45","o":0.16085,"h":0.16204,"l":0.15982,"c":0.16187,"v":21.6,"k":"g"},
{"t":"2024-09-24T11:50","o":0.16187,"h":0.16261,"l":0.16126,"c":0.16159,"v":14.4,"k":"g"},
{"t":"2024-09-24T11:55","o":0.16160,"h":0.16278,"l":0.16016,"c":0.16193,"v":28.7,"k":"b"},
{"t":"2024-09-24T12:00","o":0.16193,"h":0.16214,"l":0.16105,"c":0.16156,"v":7.2,"k":"g"},
{"t":"2024-09-24T12:05","o":0.16156,"h":0.16279,"l":0.16105,"c":0.16276,"v":11.5,"k":"b"},
{"t":"2024-09-24T12:10","o":0.16276,"h":0.16388,"l":0.16239,"c":0.16361,"v":15.1,"k":"b"},
{"t":"2024-09-24T12:15","o":0.16361,"h":0.16364,"l":0.16176,"c":0.16317,"v":21.6,"k":"d"},
{"t":"2024-09-24T12:20","o":0.16317,"h":0.16421,"l":0.16244,"c":0.16374,"v":11.5,"k":"g"},
{"t":"2024-09-24T12:25","o":0.16374,"h":0.16395,"l":0.16275,"c":0.16300,"v":8.6,"k":"g"},
{"t":"2024-09-24T12:30","o":0.16303,"h":0.16313,"l":0.16225,"c":0.16265,"v":5.7,"k":"g"},
{"t":"2024-09-24T12:35","o":0.16268,"h":0.16275,"l":0.16164,"c":0.16239,"v":5.7,"k":"d"},
{"t":"2024-09-24T12:40","o":0.16244,"h":0.16254,"l":0.16130,"c":0.16183,"v":10.1,"k":"d"},
{"t":"2024-09-24T12:45","o":0.16183,"h":0.16350,"l":0.16180,"c":0.16268,"v":7.2,"k":"b"},
{"t":"2024-09-24T12:50","o":0.16269,"h":0.16317,"l":0.16239,"c":0.16275,"v":5.7,"k":"g"},
{"t":"2024-09-24T12:55","o":0.16280,"h":0.16306,"l":0.16162,"c":0.16169,"v":6.5,"k":"d"},
{"t":"2024-09-24T13:00","o":0.16170,"h":0.16197,"l":0.16062,"c":0.16156,"v":10.8,"k":"d"},
{"t":"2024-09-24T13:05","o":0.16154,"h":0.16296,"l":0.16152,"c":0.16229,"v":7.9,"k":"b"},
{"t":"2024-09-24T13:10","o":0.16229,"h":0.16254,"l":0.16166,"c":0.16169,"v":6.5,"k":"g"},
{"t":"2024-09-24T13:15","o":0.16176,"h":0.16183,"l":0.16084,"c":0.16086,"v":10.8,"k":"d"},
{"t":"2024-09-24T13:20","o":0.16086,"h":0.16147,"l":0.15982,"c":0.16144,"v":20.8,"k":"b"},
{"t":"2024-09-24T13:25","o":0.16144,"h":0.16171,"l":0.16062,"c":0.16098,"v":10.8,"k":"g"},
{"t":"2024-09-24T13:30","o":0.16097,"h":0.16104,"l":0.15967,"c":0.16083,"v":10.8,"k":"g"},
{"t":"2024-09-24T13:35","o":0.16083,"h":0.16298,"l":0.16036,"c":0.16271,"v":11.5,"k":"b"},
{"t":"2024-09-24T13:40","o":0.16271,"h":0.16331,"l":0.16239,"c":0.16243,"v":8.6,"k":"g"},
{"t":"2024-09-24T13:45","o":0.16246,"h":0.16246,"l":0.16140,"c":0.16142,"v":7.9,"k":"g"},
{"t":"2024-09-24T13:50","o":0.16145,"h":0.16147,"l":0.16026,"c":0.16083,"v":6.5,"k":"g"},
{"t":"2024-09-24T13:55","o":0.16083,"h":0.16122,"l":0.16080,"c":0.16097,"v":3.6,"k":"g"},
{"t":"2024-09-24T14:00","o":0.16100,"h":0.16224,"l":0.16066,"c":0.16216,"v":7.9,"k":"b"},
{"t":"2024-09-24T14:05","o":0.16215,"h":0.16285,"l":0.16196,"c":0.16237,"v":7.2,"k":"b"},
{"t":"2024-09-24T14:10","o":0.16240,"h":0.16253,"l":0.16196,"c":0.16243,"v":4.3,"k":"g"},
{"t":"2024-09-24T14:15","o":0.16241,"h":0.16285,"l":0.16149,"c":0.16219,"v":5.7,"k":"d"},
{"t":"2024-09-24T14:20","o":0.16220,"h":0.16232,"l":0.16142,"c":0.16145,"v":5.0,"k":"d"},
{"t":"2024-09-24T14:25","o":0.16147,"h":0.16182,"l":0.16094,"c":0.16156,"v":7.9,"k":"b"},
{"t":"2024-09-24T14:30","o":0.16158,"h":0.16207,"l":0.16142,"c":0.16169,"v":5.0,"k":"b"},
{"t":"2024-09-24T14:35","o":0.16171,"h":0.16224,"l":0.16168,"c":0.16190,"v":5.7,"k":"b"},
{"t":"2024-09-24T14:40","o":0.16190,"h":0.16192,"l":0.16073,"c":0.16117,"v":7.2,"k":"d"},
{"t":"2024-09-24T14:45","o":0.16117,"h":0.16175,"l":0.16107,"c":0.16152,"v":4.3,"k":"g"},
{"t":"2024-09-24T14:50","o":0.16152,"h":0.16168,"l":0.16089,"c":0.16138,"v":3.6,"k":"g"},
{"t":"2024-09-24T14:55","o":0.16139,"h":0.16142,"l":0.16069,"c":0.16070,"v":5.7,"k":"d"},
{"t":"2024-09-24T15:00","o":0.16070,"h":0.16171,"l":0.16019,"c":0.16139,"v":10.1,"k":"b"},
{"t":"2024-09-24T15:05","o":0.16141,"h":0.16147,"l":0.16033,"c":0.16047,"v":9.3,"k":"d"},
{"t":"2024-09-24T15:10","o":0.16052,"h":0.16122,"l":0.15981,"c":0.16055,"v":12.2,"k":"b"},
{"t":"2024-09-24T15:15","o":0.16057,"h":0.16057,"l":0.15906,"c":0.15909,"v":48.1,"k":"d"},
{"t":"2024-09-24T15:20","o":0.15910,"h":0.15974,"l":0.15887,"c":0.15899,"v":13.7,"k":"d"},
{"t":"2024-09-24T15:25","o":0.15906,"h":0.15979,"l":0.15885,"c":0.15900,"v":7.9,"k":"g"},
{"t":"2024-09-24T15:30","o":0.15903,"h":0.15948,"l":0.15880,"c":0.15931,"v":6.5,"k":"g"},
{"t":"2024-09-24T15:35","o":0.15931,"h":0.15988,"l":0.15878,"c":0.15885,"v":7.9,"k":"d"},
{"t":"2024-09-24T15:40","o":0.15890,"h":0.15902,"l":0.15839,"c":0.15842,"v":7.9,"k":"d"},
{"t":"2024-09-24T15:45","o":0.15848,"h":0.15944,"l":0.15842,"c":0.15914,"v":10.8,"k":"b"},
{"t":"2024-09-24T15:50","o":0.15916,"h":0.15958,"l":0.15856,"c":0.15896,"v":5.7,"k":"g"},
{"t":"2024-09-24T15:55","o":0.15896,"h":0.15920,"l":0.15849,"c":0.15899,"v":5.7,"k":"d"},
{"t":"2024-09-24T16:00","o":0.15895,"h":0.15895,"l":0.15637,"c":0.15750,"v":39.5,"k":"d"},
{"t":"2024-09-24T16:05","o":0.15753,"h":0.15771,"l":0.15708,"c":0.15756,"v":20.8,"k":"d"},
{"t":"2024-09-24T16:10","o":0.15746,"h":0.15807,"l":0.15743,"c":0.15776,"v":8.6,"k":"g"},
{"t":"2024-09-24T16:15","o":0.15776,"h":0.15778,"l":0.15661,"c":0.15729,"v":8.6,"k":"g"},
{"t":"2024-09-24T16:20","o":0.15729,"h":0.15863,"l":0.15722,"c":0.15827,"v":10.1,"k":"b"},
{"t":"2024-09-24T16:25","o":0.15827,"h":0.15899,"l":0.15802,"c":0.15807,"v":8.6,"k":"g"},
{"t":"2024-09-24T16:30","o":0.15811,"h":0.16052,"l":0.15791,"c":0.16029,"v":15.1,"k":"b"},
{"t":"2024-09-24T16:35","o":0.16033,"h":0.16092,"l":0.16013,"c":0.16085,"v":5.01,"k":"g"}
],
"ma":[{"t":"2024-09-23T13:30","v":13.7},{"t":"2024-09-23T13:35","v":15.1},{"t":"2024-09-23T13:40","v":25.1},{"t":"2024-09-23T13:50","v":33.5},{"t":"2024-09-23T14:05","v":43.8},{"t":"2024-09-23T14:15","v":47.9},{"t":"2024-09-23T14:20","v":48.6},{"t":"2024-09-23T14:25","v":52.7},{"t":"2024-09-23T14:35","v":50.3},{"t":"2024-09-23T14:40","v":47.2},{"t":"2024-09-23T14:47","v":46.7},{"t":"2024-09-23T14:55","v":42.6},{"t":"2024-09-23T15:00","v":49.6},{"t":"2024-09-23T15:10","v":50.1},{"t":"2024-09-23T15:15","v":49.6},{"t":"2024-09-23T15:25","v":52.7},{"t":"2024-09-23T15:35","v":53.2},{"t":"2024-09-23T15:45","v":58.2},{"t":"2024-09-23T15:50","v":53.2},{"t":"2024-09-23T16:00","v":53.2},{"t":"2024-09-23T16:15","v":45.0},{"t":"2024-09-23T16:25","v":49.6},{"t":"2024-09-23T16:35","v":41.4},{"t":"2024-09-23T16:45","v":39.5},{"t":"2024-09-23T16:55","v":36.4},{"t":"2024-09-23T17:05","v":36.6},{"t":"2024-09-23T17:15","v":29.9},{"t":"2024-09-23T17:30","v":28.7},{"t":"2024-09-23T17:45","v":25.1},{"t":"2024-09-23T18:00","v":20.8},{"t":"2024-09-23T18:10","v":20.1},{"t":"2024-09-23T18:20","v":21.6},{"t":"2024-09-23T18:30","v":23.2},{"t":"2024-09-23T18:50","v":24.4},{"t":"2024-09-23T18:55","v":29.5},{"t":"2024-09-23T19:05","v":27.5},{"t":"2024-09-23T19:15","v":27.1},{"t":"2024-09-23T19:30","v":24.0},{"t":"2024-09-23T19:40","v":28.0},{"t":"2024-09-23T19:45","v":24.0},{"t":"2024-09-23T20:00","v":24.4},{"t":"2024-09-23T20:20","v":24.0},{"t":"2024-09-23T20:25","v":26.3},{"t":"2024-09-23T20:30","v":21.6},{"t":"2024-09-23T20:40","v":20.4},{"t":"2024-09-23T20:55","v":16.5},{"t":"2024-09-23T21:05","v":21.6},{"t":"2024-09-23T21:15","v":22.8},{"t":"2024-09-23T21:35","v":28.5},{"t":"2024-09-23T21:50","v":26.3},{"t":"2024-09-23T21:55","v":20.4},{"t":"2024-09-23T22:10","v":13.7},{"t":"2024-09-23T22:25","v":10.3},{"t":"2024-09-23T22:55","v":9.6},{"t":"2024-09-23T23:00","v":11.7},{"t":"2024-09-23T23:35","v":11.3},{"t":"2024-09-23T23:50","v":7.7},{"t":"2024-09-24T00:20","v":6.5},{"t":"2024-09-24T00:50","v":5.7},{"t":"2024-09-24T01:10","v":7.4},{"t":"2024-09-24T01:25","v":6.2},{"t":"2024-09-24T01:50","v":4.1},{"t":"2024-09-24T02:15","v":6.5},{"t":"2024-09-24T02:40","v":9.1},{"t":"2024-09-24T03:05","v":8.1},{"t":"2024-09-24T03:15","v":10.8},{"t":"2024-09-24T03:45","v":9.3},{"t":"2024-09-24T04:05","v":5.7},{"t":"2024-09-24T04:30","v":7.2},{"t":"2024-09-24T04:40","v":10.8},{"t":"2024-09-24T05:00","v":11.0},{"t":"2024-09-24T05:05","v":14.4},{"t":"2024-09-24T05:20","v":15.6},{"t":"2024-09-24T05:35","v":13.7},{"t":"2024-09-24T05:50","v":14.1},{"t":"2024-09-24T06:00","v":9.6},{"t":"2024-09-24T06:25","v":8.9},{"t":"2024-09-24T06:50","v":9.3},{"t":"2024-09-24T07:15","v":15.1},{"t":"2024-09-24T07:35","v":15.8},{"t":"2024-09-24T07:55","v":13.7},{"t":"2024-09-24T08:05","v":9.3},{"t":"2024-09-24T08:15","v":10.3},{"t":"2024-09-24T08:30","v":9.6},{"t":"2024-09-24T08:50","v":11.3},{"t":"2024-09-24T09:05","v":9.3},{"t":"2024-09-24T09:15","v":13.7},{"t":"2024-09-24T09:40","v":15.8},{"t":"2024-09-24T09:55","v":18.9},{"t":"2024-09-24T10:05","v":14.6},{"t":"2024-09-24T10:30","v":13.7},{"t":"2024-09-24T10:40","v":10.3},{"t":"2024-09-24T11:05","v":7.9},{"t":"2024-09-24T11:25","v":7.2},{"t":"2024-09-24T11:35","v":15.6},{"t":"2024-09-24T11:55","v":20.4},{"t":"2024-09-24T12:15","v":23.2},{"t":"2024-09-24T12:25","v":16.0},{"t":"2024-09-24T12:45","v":10.8},{"t":"2024-09-24T13:10","v":7.7},{"t":"2024-09-24T13:25","v":9.8},{"t":"2024-09-24T13:50","v":10.8},{"t":"2024-09-24T14:05","v":10.3},{"t":"2024-09-24T14:15","v":8.4},{"t":"2024-09-24T14:40","v":6.5},{"t":"2024-09-24T14:55","v":5.7},{"t":"2024-09-24T15:10","v":7.2},{"t":"2024-09-24T15:20","v":12.0},{"t":"2024-09-24T15:45","v":13.7},{"t":"2024-09-24T15:55","v":12.9},{"t":"2024-09-24T16:00","v":15.1},{"t":"2024-09-24T16:05","v":12.9},{"t":"2024-09-24T16:35","v":12.14}]},
"encoding":{"x":{"field":"t","type":"temporal","title":null,"scale":{"domain":["2024-09-23T13:28:41","2024-09-24T23:17:13"],"padding":0},"axis":null}},
"resolve":{"scale":{"y":"independent"},"axis":{"y":"independent"}},
"layer":[
{"encoding":{"y":{"field":"v","type":"quantitative","title":null,"scale":{"domain":[-9.698,671.34]},"axis":{"orient":"right","title":null,"grid":false,"ticks":false,"domainColor":"#000000","labelFontSize":12,"labelPadding":6,"labelOffset":-2,"minExtent":118,"maxExtent":118,"labelBound":false,"labelFlush":false,"labelOverlap":false,"values":[0,25,50,75,100],"labelExpr":"format(datum.value*1000000,',.5f')"}}},
"layer":[
{"data":{"name":"candles"},"mark":{"type":"bar","size":3,"clip":true},"encoding":{"y2":{"datum":0},"color":{"field":"k","type":"nominal","legend":null,"scale":{"domain":["b","d","g"],"range":["#2962ff","#363a45","#b2b5be"]}}}},
{"data":{"values":[{"t":"2024-09-23T13:28:41","b":"2024-09-24T23:17:13","v":53}]},"mark":{"type":"rule","color":"#00bcd4","strokeWidth":1},"encoding":{"x2":{"field":"b"}}},
{"data":{"name":"ma"},"mark":{"type":"line","color":"#f23645","strokeWidth":1,"clip":true}}
]},
{"encoding":{"y":{"field":"p","type":"quantitative","title":null,"scale":{"domain":[0.146752,0.187032]},"axis":null}},
"layer":[
{"data":{"values":[{"t":"2024-09-24T16:35:00","b":"2024-09-24T20:05:17","p":0.16058,"q":0.18241}]},"mark":{"type":"rect","color":"#808080","opacity":0.26},"encoding":{"x2":{"field":"b"},"y2":{"field":"q"}}},
{"data":{"values":[{"t":"2024-09-24T15:15:00","b":"2024-09-24T20:05:17","p":0.15736,"q":0.16058}]},"mark":{"type":"rect","fill":"#808080","fillOpacity":0.33,"stroke":"#000000","strokeWidth":1},"encoding":{"x2":{"field":"b"},"y2":{"field":"q"}}},
{"data":{"values":[{"t":"2024-09-24T16:35:00","b":"2024-09-24T20:05:17","p":0.15624,"q":0.16058}]},"mark":{"type":"rect","color":"#f23645","opacity":0.35},"encoding":{"x2":{"field":"b"},"y2":{"field":"q"}}},
{"data":{"values":[{"t":"2024-09-24T15:15:00","b":"2024-09-24T20:05:17","p":0.15898}]},"mark":{"type":"rule","color":"#000000","strokeDash":[6,4],"strokeWidth":1},"encoding":{"x2":{"field":"b"}}},
{"data":{"values":[{"t":"2024-09-23T13:28:41","b":"2024-09-24T23:17:13","p":0.16085}]},"mark":{"type":"rule","color":"#000000","strokeDash":[1,3],"strokeWidth":1},"encoding":{"x2":{"field":"b"}}},
{"data":{"values":[{"t":"2024-09-24T05:55:00","p":0.153635},{"t":"2024-09-24T23:17:13","p":0.159613}]},"mark":{"type":"line","color":"#f23645","strokeWidth":2}},
{"data":{"name":"candles"},"mark":{"type":"rule","color":"#000000","strokeWidth":1,"clip":true},"encoding":{"y":{"field":"l","type":"quantitative","title":null,"axis":null},"y2":{"field":"h"}}},
{"data":{"name":"candles"},"mark":{"type":"bar","size":2.2,"stroke":"#000000","strokeWidth":1,"clip":true},"encoding":{"y":{"field":"o","type":"quantitative","title":null,"axis":null},"y2":{"field":"c"},"fill":{"condition":{"test":"datum.c>=datum.o","value":"#ffffff"},"value":"#000000"}}},
{"data":{"values":[{"t":"2024-09-24T20:05:17","b":"2024-09-24T20:21:30","p":0.18241,"q":0.18304},{"t":"2024-09-24T20:05:17","b":"2024-09-24T20:21:30","p":0.16935,"q":0.16998},{"t":"2024-09-24T20:05:17","b":"2024-09-24T20:21:30","p":0.16058,"q":0.16121},{"t":"2024-09-24T20:05:17","b":"2024-09-24T20:21:30","p":0.15624,"q":0.15687}]},"mark":{"type":"rule","color":"#000000","strokeWidth":3.5},"encoding":{"x2":{"field":"b"},"y2":{"field":"q"}}},
{"data":{"values":[{"t":"2024-09-24T20:05:17","p":0.18241},{"t":"2024-09-24T20:05:17","p":0.16935},{"t":"2024-09-24T20:05:17","p":0.16058},{"t":"2024-09-24T20:05:17","p":0.15624}]},"mark":{"type":"point","filled":true,"color":"#000000","size":22,"opacity":1}},
{"data":{"values":[{"t":"2024-09-24T20:14:00","b":"2024-09-24T21:21:50","p":0.18304,"q":0.18397},{"t":"2024-09-24T20:14:00","b":"2024-09-24T21:21:50","p":0.16998,"q":0.17091},{"t":"2024-09-24T20:14:00","b":"2024-09-24T21:21:50","p":0.16121,"q":0.16214},{"t":"2024-09-24T20:14:00","b":"2024-09-24T21:21:50","p":0.15687,"q":0.15780}]},"mark":{"type":"rect","color":"#000000","cornerRadius":4},"encoding":{"x2":{"field":"b"},"y2":{"field":"q"}}},
{"data":{"values":[{"t":"2024-09-24T20:48:00","p":0.18351,"s":"0.18241"},{"t":"2024-09-24T20:48:00","p":0.17045,"s":"0.16935"},{"t":"2024-09-24T20:48:00","p":0.16168,"s":"0.16058"},{"t":"2024-09-24T20:48:00","p":0.15734,"s":"0.15624"}]},"mark":{"type":"text","color":"#ffffff","fontSize":10,"fontWeight":"bold"},"encoding":{"text":{"field":"s"}}},
{"data":{"values":[{"t":"2024-09-24T23:26:13","p":0.154,"s":"0.15400"},{"t":"2024-09-24T23:26:13","p":0.156,"s":"0.15600"},{"t":"2024-09-24T23:26:13","p":0.158,"s":"0.15800"},{"t":"2024-09-24T23:26:13","p":0.16,"s":"0.16000"},{"t":"2024-09-24T23:26:13","p":0.162,"s":"0.16200"},{"t":"2024-09-24T23:26:13","p":0.164,"s":"0.16400"},{"t":"2024-09-24T23:26:13","p":0.166,"s":"0.16600"},{"t":"2024-09-24T23:26:13","p":0.168,"s":"0.16800"},{"t":"2024-09-24T23:26:13","p":0.17,"s":"0.17000"},{"t":"2024-09-24T23:26:13","p":0.172,"s":"0.17200"},{"t":"2024-09-24T23:26:13","p":0.174,"s":"0.17400"},{"t":"2024-09-24T23:26:13","p":0.176,"s":"0.17600"},{"t":"2024-09-24T23:26:13","p":0.178,"s":"0.17800"},{"t":"2024-09-24T23:26:13","p":0.18,"s":"0.18000"},{"t":"2024-09-24T23:26:13","p":0.182,"s":"0.18200"},{"t":"2024-09-24T23:26:13","p":0.184,"s":"0.18400"}]},"mark":{"type":"text","color":"#131722","fontSize":12.5,"align":"left","baseline":"middle"},"encoding":{"text":{"field":"s"}}},
{"data":{"values":[{"t":"2024-09-23T14:00","p":0.14617,"s":"14:00"},{"t":"2024-09-23T15:00","p":0.14617,"s":"15:00"},{"t":"2024-09-23T16:00","p":0.14617,"s":"16:00"},{"t":"2024-09-23T17:00","p":0.14617,"s":"17:00"},{"t":"2024-09-23T18:00","p":0.14617,"s":"18:00"},{"t":"2024-09-23T19:00","p":0.14617,"s":"19:00"},{"t":"2024-09-23T20:00","p":0.14617,"s":"20:00"},{"t":"2024-09-23T21:00","p":0.14617,"s":"21:00"},{"t":"2024-09-23T22:00","p":0.14617,"s":"22:00"},{"t":"2024-09-23T23:00","p":0.14617,"s":"23:00"},{"t":"2024-09-24T01:00","p":0.14617,"s":"01:00"},{"t":"2024-09-24T02:00","p":0.14617,"s":"02:00"},{"t":"2024-09-24T03:00","p":0.14617,"s":"03:00"},{"t":"2024-09-24T04:00","p":0.14617,"s":"04:00"},{"t":"2024-09-24T05:00","p":0.14617,"s":"05:00"},{"t":"2024-09-24T06:00","p":0.14617,"s":"06:00"},{"t":"2024-09-24T07:00","p":0.14617,"s":"07:00"},{"t":"2024-09-24T08:00","p":0.14617,"s":"08:00"},{"t":"2024-09-24T09:00","p":0.14617,"s":"09:00"},{"t":"2024-09-24T10:00","p":0.14617,"s":"10:00"},{"t":"2024-09-24T11:00","p":0.14617,"s":"11:00"},{"t":"2024-09-24T12:00","p":0.14617,"s":"12:00"},{"t":"2024-09-24T13:00","p":0.14617,"s":"13:00"},{"t":"2024-09-24T14:00","p":0.14617,"s":"14:00"},{"t":"2024-09-24T15:00","p":0.14617,"s":"15:00"},{"t":"2024-09-24T16:00","p":0.14617,"s":"16:00"},{"t":"2024-09-24T17:00","p":0.14617,"s":"17:00"},{"t":"2024-09-24T18:00","p":0.14617,"s":"18:00"},{"t":"2024-09-24T19:00","p":0.14617,"s":"19:00"},{"t":"2024-09-24T20:00","p":0.14617,"s":"20:00"},{"t":"2024-09-24T21:00","p":0.14617,"s":"21:00"},{"t":"2024-09-24T22:00","p":0.14617,"s":"22:00"},{"t":"2024-09-24T23:00","p":0.14617,"s":"23:00"}]},"mark":{"type":"text","color":"#131722","fontSize":12,"baseline":"middle"},"encoding":{"text":{"field":"s"}}},
{"data":{"values":[{"t":"2024-09-24T00:00","p":0.14617,"s":"24"}]},"mark":{"type":"text","color":"#131722","fontSize":12,"fontWeight":"bold","baseline":"middle"},"encoding":{"text":{"field":"s"}}},
{"data":{"values":[{"t":"2024-09-24T22:43:00","b":"2024-09-25T00:20:00","p":0.18338,"q":0.18410},{"t":"2024-09-24T22:47:00","b":"2024-09-25T00:20:00","p":0.15597,"q":0.15669}]},"mark":{"type":"rect","color":"#e3effd","cornerRadius":2},"encoding":{"x2":{"field":"b"},"y2":{"field":"q"}}},
{"data":{"values":[{"t":"2024-09-24T23:17:13","b":"2024-09-25T00:20:00","p":0.18206,"q":0.18278},{"t":"2024-09-24T22:47:00","b":"2024-09-25T00:20:00","p":0.16189,"q":0.16263},{"t":"2024-09-24T22:47:00","b":"2024-09-25T00:20:00","p":0.16120,"q":0.16189},{"t":"2024-09-24T23:17:13","b":"2024-09-25T00:20:00","p":0.15992,"q":0.16120}]},"mark":{"type":"rect","color":"#000000","cornerRadius":2},"encoding":{"x2":{"field":"b"},"y2":{"field":"q"}}},
{"data":{"values":[{"t":"2024-09-24T23:17:13","b":"2024-09-25T00:20:00","p":0.15916,"q":0.15992}]},"mark":{"type":"rect","color":"#808080"},"encoding":{"x2":{"field":"b"},"y2":{"field":"q"}}},
{"data":{"values":[{"t":"2024-09-24T23:17:13","b":"2024-09-25T00:20:00","p":0.15525,"q":0.15597},{"t":"2024-09-24T23:17:13","b":"2024-09-25T01:20:40","p":0.14798,"q":0.14871}]},"mark":{"type":"rect","color":"#f23645"},"encoding":{"x2":{"field":"b"},"y2":{"field":"q"}}},
{"data":{"values":[{"t":"2024-09-24T23:17:13","b":"2024-09-25T01:13:00","p":0.14726,"q":0.14798}]},"mark":{"type":"rect","color":"#b2b5be"},"encoding":{"x2":{"field":"b"},"y2":{"field":"q"}}},
{"data":{"values":[{"t":"2024-09-24T23:26:13","p":0.18242,"s":"0.18241"},{"t":"2024-09-24T23:26:13","p":0.16227,"s":"0.16105"},{"t":"2024-09-24T23:26:13","p":0.16154,"s":"0.16104"},{"t":"2024-09-24T23:26:13","p":0.16083,"s":"0.16085"},{"t":"2024-09-24T23:26:13","p":0.15951,"s":"0.16058"},{"t":"2024-09-24T23:26:13","p":0.15559,"s":"0.15624"}]},"mark":{"type":"text","color":"#ffffff","fontSize":12.5,"fontWeight":500,"align":"left","baseline":"middle"},"encoding":{"text":{"field":"s"}}},
{"data":{"values":[{"t":"2024-09-24T23:26:13","p":0.14835,"s":"12,141,861.50000"}]},"mark":{"type":"text","color":"#ffffff","fontSize":12,"fontWeight":500,"align":"left","baseline":"middle"},"encoding":{"text":{"field":"s"}}},
{"data":{"values":[{"t":"2024-09-24T23:26:13","p":0.16023,"s":"03:51"}]},"mark":{"type":"text","color":"#9598a1","fontSize":12,"align":"left","baseline":"middle"},"encoding":{"text":{"field":"s"}}},
{"data":{"values":[{"t":"2024-09-24T23:26:13","p":0.18375,"s":"0.18375"},{"t":"2024-09-24T23:26:13","p":0.15632,"s":"0.15636"}]},"mark":{"type":"text","color":"#131722","fontSize":12.5,"align":"left","baseline":"middle"},"encoding":{"text":{"field":"s"}}},
{"data":{"values":[{"t":"2024-09-24T23:26:13","p":0.14762,"s":"5,010,080.00000"}]},"mark":{"type":"text","color":"#131722","fontSize":12,"align":"left","baseline":"middle"},"encoding":{"text":{"field":"s"}}},
{"data":{"values":[{"t":"2024-09-24T23:00:00","p":0.18375,"s":"High"},{"t":"2024-09-24T23:00:00","p":0.15632,"s":"Low"}]},"mark":{"type":"text","color":"#131722","fontSize":12,"baseline":"middle"},"encoding":{"text":{"field":"s"}}},
{"data":{"values":[{"t":"2024-09-24T23:00:00","p":0.16227,"s":"Ask"},{"t":"2024-09-24T23:00:00","p":0.16154,"s":"Bid"}]},"mark":{"type":"text","color":"#ffffff","fontSize":12,"baseline":"middle"},"encoding":{"text":{"field":"s"}}},
{"data":{"values":[{"t":"2024-09-24T23:17:13","b":"2024-09-24T23:17:13","p":0.146752,"q":0.14565}]},"mark":{"type":"rule","color":"#000000","strokeWidth":1},"encoding":{"x2":{"field":"b"},"y2":{"field":"q"}}},
{"data":{"values":[{"t":"2024-09-23T13:28:41","b":"2024-09-25T01:30:00","p":0.146752}]},"mark":{"type":"rule","color":"#000000","strokeWidth":1},"encoding":{"x2":{"field":"b"}}},
{"data":{"values":[{"t":"2024-09-25T00:24:40","p":0.14616}]},"mark":{"type":"point","shape":"M0,-1L0.87,-0.5L0.87,0.5L0,1L-0.87,0.5L-0.87,-0.5Z","size":170,"stroke":"#131722","strokeWidth":1,"filled":false,"opacity":1}},
{"data":{"values":[{"t":"2024-09-25T00:24:40","p":0.14616}]},"mark":{"type":"point","shape":"circle","size":14,"stroke":"#131722","strokeWidth":1,"filled":false,"opacity":1}},
{"data":{"values":[{"t":"2024-09-24T23:20:30","b":"2024-09-25T01:25:50","p":0.18588,"q":0.18690}]},"mark":{"type":"rect","fill":"#ffffff","stroke":"#e0e3eb","strokeWidth":1,"cornerRadius":4},"encoding":{"x2":{"field":"b"},"y2":{"field":"q"}}},
{"data":{"values":[{"t":"2024-09-24T23:26:13","p":0.18639,"s":"USDT"}]},"mark":{"type":"text","color":"#131722","fontSize":12,"align":"left","baseline":"middle"},"encoding":{"text":{"field":"s"}}},
{"data":{"values":[{"t":"2024-09-25T01:18:00","p":0.18645,"s":"⌄"}]},"mark":{"type":"text","color":"#131722","fontSize":10,"baseline":"middle"},"encoding":{"text":{"field":"s"}}},
{"data":{"values":[{"t":"2024-09-23T14:03:36","p":0.18641,"s":"ENA / TetherUS PERPETUAL CONTRACT · 5 · Binance"}]},"mark":{"type":"text","color":"#131722","fontSize":15.4,"align":"left","baseline":"middle"},"encoding":{"text":{"field":"s"}}},
{"data":{"values":[{"t":"2024-09-23T21:28:30","p":0.18641,"s":"O0.16033 H0.16092 L0.16013 C0.16085 +0.00053 (+0.33%)"}]},"mark":{"type":"text","color":"#131722","fontSize":13.3,"align":"left","baseline":"middle"},"encoding":{"text":{"field":"s"}}},
{"data":{"values":[{"t":"2024-09-23T13:49:00","p":0.18642}]},"mark":{"type":"point","shape":"circle","filled":true,"color":"#131722","size":300,"opacity":1}},
{"data":{"values":[{"t":"2024-09-23T13:49:00","p":0.18642,"s":"Ξ"}]},"mark":{"type":"text","color":"#ffffff","fontSize":9,"baseline":"middle"},"encoding":{"text":{"field":"s"}}},
{"data":{"values":[{"t":"2024-09-23T21:15:00","p":0.18642}]},"mark":{"type":"point","shape":"circle","filled":true,"color":"#d3f0ea","size":200,"opacity":1}},
{"data":{"values":[{"t":"2024-09-23T21:15:00","p":0.18642}]},"mark":{"type":"point","shape":"circle","filled":true,"color":"#42bda8","size":60,"opacity":1}},
{"data":{"values":[{"t":"2024-09-23T13:38:49","b":"2024-09-23T14:56:00","p":0.18436,"q":0.18576}]},"mark":{"type":"rect","fill":"#ffffff","stroke":"#f23645","strokeWidth":1,"cornerRadius":4},"encoding":{"x2":{"field":"b"},"y2":{"field":"q"}}},
{"data":{"values":[{"t":"2024-09-23T15:54:00","b":"2024-09-23T17:10:00","p":0.18436,"q":0.18576}]},"mark":{"type":"rect","fill":"#ffffff","stroke":"#2962ff","strokeWidth":1,"cornerRadius":4},"encoding":{"x2":{"field":"b"},"y2":{"field":"q"}}},
{"data":{"values":[{"t":"2024-09-23T14:17:24","p":0.18533,"s":"0.16104"}]},"mark":{"type":"text","color":"#f23645","fontSize":13,"baseline":"middle"},"encoding":{"text":{"field":"s"}}},
{"data":{"values":[{"t":"2024-09-23T14:17:24","p":0.18474,"s":"SELL"}]},"mark":{"type":"text","color":"#f23645","fontSize":10.5,"baseline":"middle"},"encoding":{"text":{"field":"s"}}},
{"data":{"values":[{"t":"2024-09-23T16:32:00","p":0.18533,"s":"0.16105"}]},"mark":{"type":"text","color":"#2962ff","fontSize":13,"baseline":"middle"},"encoding":{"text":{"field":"s"}}},
{"data":{"values":[{"t":"2024-09-23T16:32:00","p":0.18474,"s":"BUY"}]},"mark":{"type":"text","color":"#2962ff","fontSize":10.5,"baseline":"middle"},"encoding":{"text":{"field":"s"}}},
{"data":{"values":[{"t":"2024-09-23T15:25:00","p":0.18508,"s":"0.00001"}]},"mark":{"type":"text","color":"#131722","fontSize":10,"baseline":"middle"},"encoding":{"text":{"field":"s"}}},
{"data":{"values":[{"t":"2024-09-23T13:38:49","b":"2024-09-23T14:13:44","p":0.18312,"q":0.18402}]},"mark":{"type":"rect","fill":"#ffffff","stroke":"#e0e3eb","strokeWidth":1,"cornerRadius":3},"encoding":{"x2":{"field":"b"},"y2":{"field":"q"}}},
{"data":{"values":[{"t":"2024-09-23T13:56:00","p":0.18355,"s":"⌄ 3"}]},"mark":{"type":"text","color":"#131722","fontSize":11,"baseline":"middle"},"encoding":{"text":{"field":"s"}}},
{"data":{"values":[{"t":"2024-09-24T22:24:00","p":0.15287,"s":"v4 © P4 Provider"}]},"mark":{"type":"text","color":"#b2b5be","fontSize":8.5,"baseline":"middle"},"encoding":{"text":{"field":"s"}}},
{"data":{"values":[{"t":"2024-09-24T22:07:00","p":0.14885,"s":"Asian:"}]},"mark":{"type":"text","color":"#f23645","fontSize":10,"baseline":"middle"},"encoding":{"text":{"field":"s"}}},
{"data":{"values":[{"t":"2024-09-24T22:07:00","p":0.14770,"s":"NYork:"}]},"mark":{"type":"text","color":"#4caf50","fontSize":10,"baseline":"middle"},"encoding":{"text":{"field":"s"}}},
{"data":{"values":[{"t":"2024-09-24T22:48:30","p":0.14892},{"t":"2024-09-24T22:48:30","p":0.14777}]},"mark":{"type":"point","shape":"square","filled":true,"color":"#4cb884","size":196,"opacity":1}},
{"data":{"values":[{"t":"2024-09-24T22:48:30","p":0.14892,"s":"✓"},{"t":"2024-09-24T22:48:30","p":0.14777,"s":"✓"}]},"mark":{"type":"text","color":"#ffffff","fontSize":11,"font":"DejaVu Sans","fontWeight":"bold","baseline":"middle"},"encoding":{"text":{"field":"s"}}},
{"data":{"values":[{"t":"2024-09-23T15:32:00","p":0.14764,"s":"TradingView"}]},"mark":{"type":"text","color":"#ffffff","stroke":"#ffffff","strokeWidth":3,"fontSize":21.5,"fontWeight":500,"baseline":"middle"},"encoding":{"text":{"field":"s"}}},
{"data":{"values":[{"t":"2024-09-23T15:32:00","p":0.14764,"s":"TradingView"}]},"mark":{"type":"text","color":"#000000","fontSize":21.5,"fontWeight":500,"baseline":"middle"},"encoding":{"text":{"field":"s"}}},
{"data":{"values":[{"t":"2024-09-23T13:59:00","p":0.14764,"s":"17"}]},"mark":{"type":"text","color":"#000000","fontSize":24,"fontWeight":900,"baseline":"middle"},"encoding":{"text":{"field":"s"}}}
]}
]}
